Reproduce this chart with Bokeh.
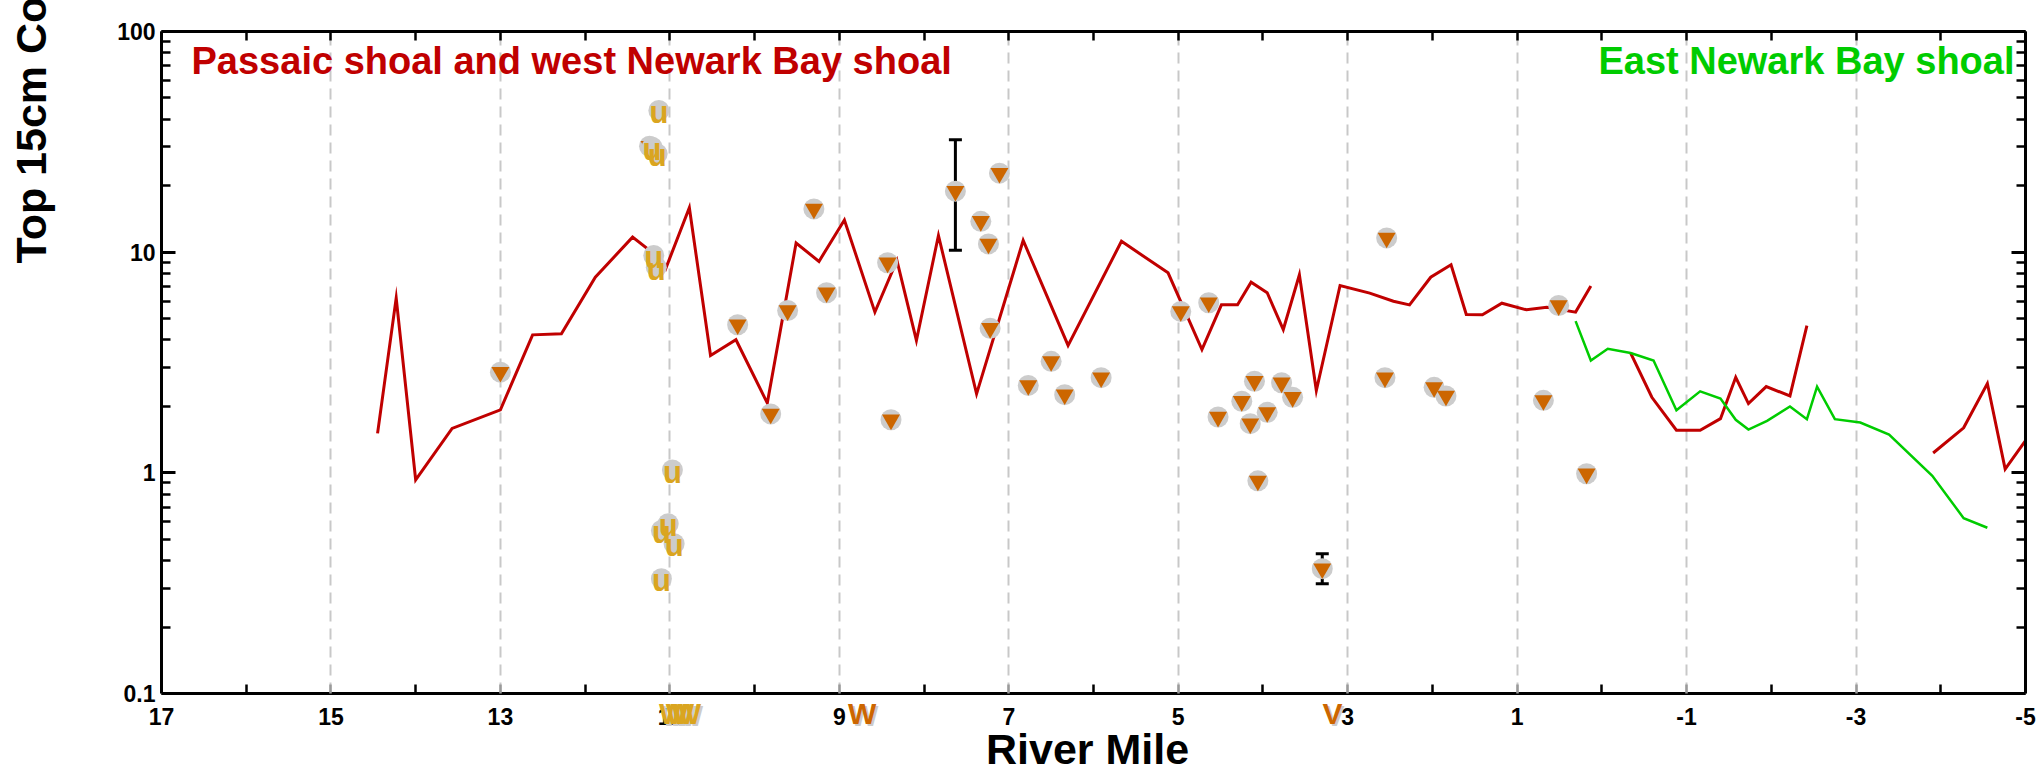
import math
from bokeh.plotting import figure
from bokeh.models import (Range1d, FixedTicker, LinearAxis, LogAxis, Label,
                          ColumnDataSource, Whisker, TeeHead)
from bokeh.embed import file_html
from bokeh.resources import INLINE
from bokeh.core.properties import value

# ---------------- data ----------------
x_major = [17, 15, 13, 11, 9, 7, 5, 3, 1, -1, -3, -5]
x_minor = [16, 14, 12, 10, 8, 6, 4, 2, 0, -2, -4]
y_major = [0.1, 1, 10, 100]
y_major_labels = ["0.1", "1", "10", "100"]
y_minor = [k * 10 ** e for e in (-1, 0, 1) for k in range(2, 10)]

# Passaic shoal and west Newark Bay shoal (red), three segments
red_mile_1 = [14.45, 14.23, 14.0, 13.57, 13.0, 12.62, 12.28, 11.88, 11.44, 11.27, 11.05,
              10.77, 10.52, 10.22, 9.85, 9.51, 9.24, 8.94, 8.58, 8.32, 8.09, 7.83, 7.38,
              6.83, 6.30, 5.67, 5.12, 4.72, 4.49, 4.30, 4.14, 3.95, 3.76, 3.57, 3.37, 3.09,
              2.74, 2.46, 2.27, 2.02, 1.78, 1.60, 1.41, 1.18, 0.89, 0.65, 0.31, 0.13]
red_val_1 = [1.51, 6.2, 0.93, 1.59, 1.93, 4.22, 4.27, 7.7, 11.7, 10.4, 8.4,
             15.9, 3.40, 4.01, 2.07, 11.0, 9.08, 14.0, 5.35, 9.17, 3.98, 11.9, 2.28,
             11.3, 3.78, 11.2, 8.06, 3.62, 5.77, 5.77, 7.31, 6.55, 4.46, 7.9, 2.36, 7.06,
             6.52, 5.99, 5.77, 7.7, 8.77, 5.22, 5.20, 5.87, 5.48, 5.63, 5.35, 7.02]
red_mile_2 = [-0.34, -0.59, -0.88, -1.16, -1.40, -1.58, -1.73, -1.94, -2.22, -2.42]
red_val_2 = [3.49, 2.20, 1.56, 1.56, 1.76, 2.71, 2.06, 2.46, 2.23, 4.65]
red_mile_3 = [-3.91, -4.27, -4.55, -4.76, -5.0]
red_val_3 = [1.23, 1.60, 2.54, 1.04, 1.40]

# East Newark Bay shoal (green)
green_mile = [0.31, 0.13, -0.07, -0.34, -0.61, -0.88, -1.16, -1.40, -1.58, -1.73, -1.95,
              -2.22, -2.42, -2.54, -2.75, -3.05, -3.39, -3.90, -4.27, -4.55]
green_val = [4.87, 3.23, 3.65, 3.49, 3.23, 1.92, 2.34, 2.17, 1.74, 1.57, 1.72,
             2.0, 1.75, 2.46, 1.75, 1.69, 1.49, 0.97, 0.623, 0.564]

# samples shown as orange triangles
tri_mile = [13.0, 11.24, 10.20, 9.81, 9.61, 9.30, 9.15, 8.43, 8.39, 7.63, 7.33, 7.24,
            7.11, 7.22, 6.77, 6.50, 6.34, 5.91, 4.97, 4.64, 4.53, 4.25, 4.10, 4.15, 3.95,
            3.78, 3.65, 4.06, 3.30, 2.54, 2.56, 1.98, 1.84, 0.69, 0.51, 0.18]
tri_val = [2.86, 30.2, 4.69, 1.85, 5.44, 15.7, 6.55, 8.95, 1.74, 18.9, 13.8, 10.9,
           22.8, 4.52, 2.49, 3.20, 2.26, 2.70, 5.39, 5.90, 1.79, 2.11, 2.60, 1.67, 1.88,
           2.56, 2.20, 0.92, 0.368, 11.6, 2.70, 2.44, 2.23, 2.13, 5.73, 0.99]

# samples shown as "u"
u_mile = [11.13, 11.21, 11.15, 11.19, 11.16, 10.97, 11.02, 11.10, 10.95, 11.10]
u_val = [43.9, 29.9, 27.9, 9.66, 8.55, 1.03, 0.588, 0.548, 0.477, 0.331]

# error bars
err_mile = [7.63, 3.30]
err_upper = [32.3, 0.43]
err_lower = [10.2, 0.314]

# letters below the axis
below_mile = [10.96, 10.88, 10.80, 8.73, 3.18]
below_text = ["W", "W", "W", "W", "V"]
below_color = ["#DAA520", "#DAA520", "#DAA520", "#CC6600", "#CC6600"]

# ---------------- styling ----------------
FONT = "Liberation Sans"
RED = "#C00000"
GREEN = "#00CC00"
ORANGE = "#CC6600"
GOLD = "#DAA520"
HALO = "#CCCCCC"

p = figure(x_range=Range1d(17, -5), y_range=Range1d(0.1, 100), y_axis_type="log",
           frame_width=1864, frame_height=662,
           min_border_left=161, min_border_right=18, min_border_top=31, min_border_bottom=85,
           output_backend="svg", toolbar_location=None)
p.outline_line_color = None
p.background_fill_color = "white"
p.border_fill_color = "white"

xt = FixedTicker(ticks=x_major, minor_ticks=x_minor)
yt = FixedTicker(ticks=y_major, minor_ticks=y_minor)


def style_axis(ax, major_color="black"):
    ax.axis_line_width = 3
    ax.axis_line_color = "black"
    ax.major_tick_in = 9
    ax.major_tick_out = 0
    ax.minor_tick_in = 9
    ax.minor_tick_out = 0
    ax.major_tick_line_width = 2.5
    ax.minor_tick_line_width = 2.5
    ax.major_tick_line_color = major_color
    ax.minor_tick_line_color = "black"
    ax.major_label_text_font = FONT
    ax.major_label_text_font_style = "bold"
    ax.major_label_text_font_size = "23px"
    ax.major_label_text_color = "black"


xa = p.xaxis[0]
xa.ticker = xt
style_axis(xa, major_color="#9A9A9A")
xa.major_label_standoff = 14
xa.major_label_overrides = {t: str(t) for t in x_major}

ya = p.yaxis[0]
ya.ticker = yt
style_axis(ya)
ya.major_tick_in = 14
ya.major_tick_line_width = 3
ya.major_label_standoff = 6
ya.major_label_overrides = dict(zip(y_major, y_major_labels))

top = LinearAxis(ticker=xt)
style_axis(top)
top.major_label_overrides = {t: "" for t in x_major}
top.major_label_text_font_size = "1px"
top.major_label_standoff = 0
p.add_layout(top, "above")

right = LogAxis(ticker=yt)
style_axis(right)
right.major_tick_in = 14
right.major_tick_line_width = 3
right.major_label_overrides = {t: "" for t in y_major}
right.major_label_text_font_size = "1px"
right.major_label_standoff = 0
p.add_layout(right, "right")

p.xgrid[0].ticker = xt
p.xgrid.grid_line_color = "#C8C8C8"
p.xgrid.grid_line_width = 2
p.xgrid.grid_line_dash = "11 7"
p.ygrid.visible = False

# error bars (under the markers)
err_src = ColumnDataSource(dict(base=err_mile, upper=err_upper, lower=err_lower))
p.add_layout(Whisker(source=err_src, base="base", upper="upper", lower="lower",
                     dimension="height", line_width=3, line_color="black",
                     upper_head=TeeHead(size=13, line_width=3, line_color="black"),
                     lower_head=TeeHead(size=13, line_width=3, line_color="black")))

# lines
for xs, ys in ((red_mile_1, red_val_1), (red_mile_2, red_val_2), (red_mile_3, red_val_3)):
    p.line(xs, ys, line_color=RED, line_width=3, line_join="miter")
p.line(green_mile, green_val, line_color=GREEN, line_width=2.5, line_join="miter")

# triangle samples
p.scatter(tri_mile, tri_val, marker="circle", size=21, fill_color=HALO, line_color=None)
p.scatter(tri_mile, tri_val, marker="inverted_triangle", size=18, fill_color=ORANGE,
          line_color=None)

# "u" samples
p.scatter(u_mile, u_val, marker="circle", size=21, fill_color=HALO, line_color=None)
p.text(u_mile, u_val, text=["u"] * len(u_mile), text_font=value(FONT),
       text_font_style="bold", text_font_size="31px", text_color=GOLD,
       text_align="center", text_baseline="middle", y_offset=2)

# letters below the axis (grey shadow + colour); side panel so they are not clipped
LETTER_Y = 0.0813
for xm, t, c in zip(below_mile, below_text, below_color):
    p.add_layout(Label(x=xm, y=LETTER_Y, x_offset=2, y_offset=-2, text=t, text_color=HALO,
                       text_font=FONT, text_font_style="bold", text_font_size="30px",
                       text_align="center", text_baseline="middle"), "below")
for xm, t, c in zip(below_mile, below_text, below_color):
    p.add_layout(Label(x=xm, y=LETTER_Y, text=t, text_color=c,
                       text_font=FONT, text_font_style="bold", text_font_size="30px",
                       text_align="center", text_baseline="middle"), "below")

# titles and axis labels
p.add_layout(Label(x=30, y=633, x_units="screen", y_units="screen",
                   text="Passaic shoal and west Newark Bay shoal", text_color=RED,
                   text_font=FONT, text_font_style="bold", text_font_size="38px",
                   text_align="left", text_baseline="middle"))
p.add_layout(Label(x=1853, y=633, x_units="screen", y_units="screen",
                   text="East Newark Bay shoal", text_color=GREEN,
                   text_font=FONT, text_font_style="bold", text_font_size="38px",
                   text_align="right", text_baseline="middle"))
p.add_layout(Label(x=6.07, y=0.0558, text="River Mile", text_color="black",
                   text_font=FONT, text_font_style="bold", text_font_size="43px",
                   text_align="center", text_baseline="middle"), "below")
p.add_layout(Label(x=18.545, y=8.89, angle=math.pi / 2,
                   text="Top 15cm Co", text_color="black",
                   text_font=FONT, text_font_style="bold", text_font_size="43px",
                   text_align="left", text_baseline="middle"), "left")

open("out.html", "w").write(file_html(p, INLINE))
